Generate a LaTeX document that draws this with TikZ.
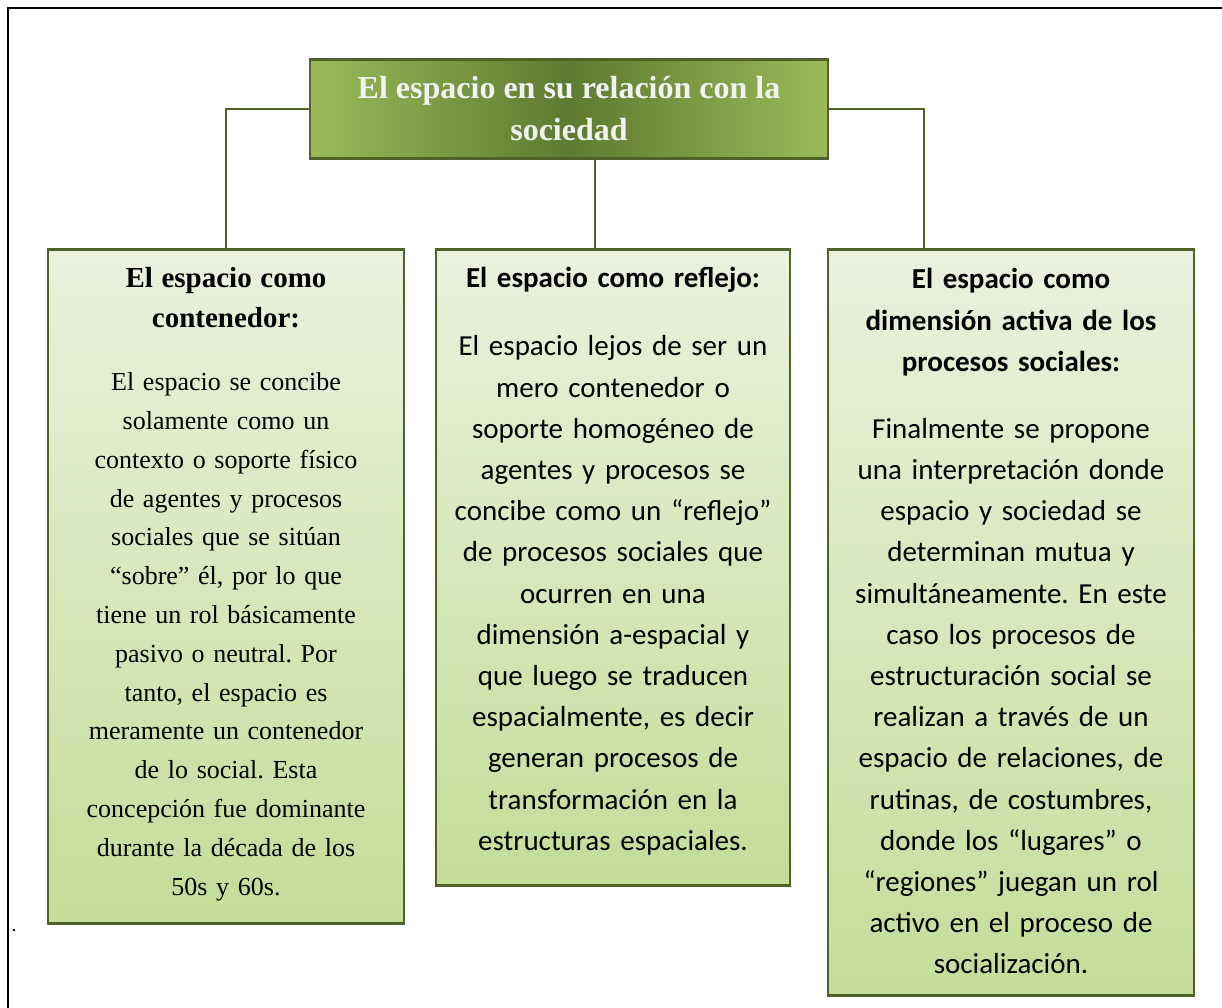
\documentclass[tikz,border=0pt]{standalone}
\usepackage{fontspec}
\setmainfont{Liberation Serif}
\newfontfamily\calibri{Carlito}
\frenchspacing
\definecolor{leafedge}{HTML}{4F6228}
\definecolor{leaflight}{HTML}{9BBB59}
\definecolor{leafdark}{HTML}{5E7A30}
\definecolor{paletop}{HTML}{EBF1DE}
\definecolor{palebottom}{HTML}{C4DD98}
\newcommand\tailgap[1]{\par\nointerlineskip\vbox to #1{}}

\begin{document}
\begin{tikzpicture}[
  x=1pt,y=-1pt,
  rootbox/.style={
    draw=leafedge, line width=2.5pt,
    left color=leaflight, right color=leaflight, middle color=leafdark,
    text=white!95!black, align=center, inner sep=0pt,
    minimum width=518pt, minimum height=99pt,
    font=\fontsize{32}{42}\selectfont\bfseries
  },
  topicbox/.style={
    draw=leafedge, line width=2.5pt,
    top color=paletop, bottom color=palebottom,
    anchor=north, align=center, inner sep=0pt, text width=340pt
  },
  link/.style={draw=leafedge, line width=1.4pt}
]
  \useasboundingbox (0,0) rectangle (1222,1008);
  \draw[line width=2pt] (8,1012) -- (8,8) -- (1226,8);

  \node[rootbox] (root) at (569,109) {El espacio en su relación con la\\sociedad};

  \node[topicbox, minimum width=356pt, minimum height=674pt,
    font=\fontsize{26}{38.8}\selectfont] (left) at (226,248) {%
    {\fontsize{29}{40}\selectfont\bfseries El espacio como\\contenedor:\par}\vspace{24pt}
    El espacio se concibe\\
    solamente como un\\
    contexto o soporte físico\\
    de agentes y procesos\\
    sociales que se sitúan\\
    “sobre” él, por lo que\\
    tiene un rol básicamente\\
    pasivo o neutral. Por\\
    tanto, el espacio es\\
    meramente un contenedor\\
    de lo social. Esta\\
    concepción fue dominante\\
    durante la década de los\\
    50s y 60s.\tailgap{4pt}};

  \node[topicbox, minimum width=354pt, minimum height=636pt,
    font=\calibri\fontsize{29}{41.2}\selectfont] (mid) at (613,248) {%
    {\bfseries El espacio como reflejo:\par}\vspace{26.8pt}
    El espacio lejos de ser un\\
    mero contenedor o\\
    soporte homogéneo de\\
    agentes y procesos se\\
    concibe como un “reflejo”\\
    de procesos sociales que\\
    ocurren en una\\
    dimensión a-espacial y\\
    que luego se traducen\\
    espacialmente, es decir\\
    generan procesos de\\
    transformación en la\\
    estructuras espaciales.\tailgap{12pt}};

  \node[topicbox, minimum width=366pt, minimum height=746pt,
    font=\calibri\fontsize{29}{41.2}\selectfont] (right) at (1011,248) {%
    {\bfseries El espacio como\\dimensión activa de los\\procesos sociales:\par}\vspace{25.8pt}
    Finalmente se propone\\
    una interpretación donde\\
    espacio y sociedad se\\
    determinan mutua y\\
    simultáneamente. En este\\
    caso los procesos de\\
    estructuración social se\\
    realizan a través de un\\
    espacio de relaciones, de\\
    rutinas, de costumbres,\\
    donde los “lugares” o\\
    “regiones” juegan un rol\\
    activo en el proceso de\\
    socialización.\tailgap{2pt}};

  % connectors
  \draw[link] (root.west) -| (left.north);
  \draw[link] (root.east) -| ([xshift=-87pt]right.north);
  \draw[link] ([xshift=26pt]root.south) -- ([xshift=26pt]root.south |- mid.north);

  \node[font=\fontsize{20}{24}\selectfont, inner sep=0pt] (stop) at (14,931) {.};
\end{tikzpicture}
\end{document}
